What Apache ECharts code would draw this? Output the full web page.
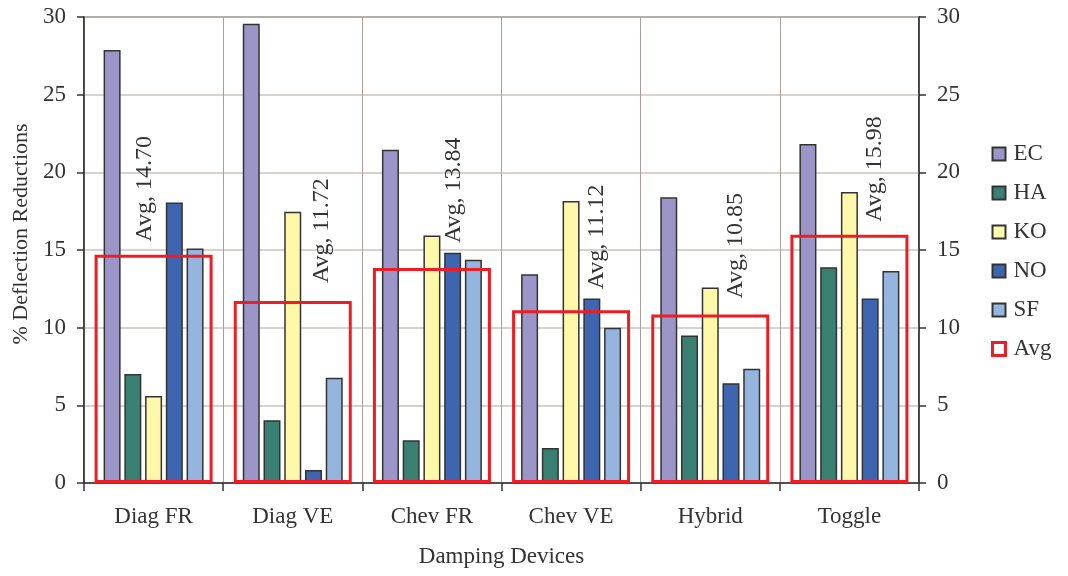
<!DOCTYPE html>
<html>
<head>
<meta charset="utf-8">
<script src="https://cdn.jsdelivr.net/npm/echarts@6/dist/echarts.min.js"></script>
<style>html,body{margin:0;padding:0;background:#fff}#c{width:1068px;height:576px}</style>
</head>
<body>
<div id="c"></div>
<script>
const categories = ['Diag FR', 'Diag VE', 'Chev FR', 'Chev VE', 'Hybrid', 'Toggle'];
const EC  = [27.88, 29.56, 21.46, 13.44, 18.40, 21.83];
const HA  = [7.02, 4.04, 2.75, 2.25, 9.49, 13.89];
const KO  = [5.60, 17.47, 15.93, 18.16, 12.58, 18.74];
const NO  = [18.05, 0.84, 14.83, 11.87, 6.42, 11.87];
const SF  = [15.10, 6.78, 14.38, 10.00, 7.36, 13.65];
const AVG = [14.70, 11.72, 13.84, 11.12, 10.85, 15.98];
const yTickLabels = ['0', '5', '10', '15', '20', '25', '30'];

// label placement tweaks for the rotated Avg labels: [screen dx, gap above bar]
const avgLabelOffsets = [[-9, 13], [29, 18], [22, 25], [26, 21], [25, 16], [25, 13]];

const FONT = 'Liberation Serif';
const TXT = '#333333';
const colors = { EC: '#9c95c8', HA: '#3a8072', KO: '#fff8aa', NO: '#3e66b0', SF: '#95b5df' };

const chart = echarts.init(document.getElementById('c'), null, { renderer: 'canvas' });

function barSeries(name, data) {
  return {
    name, type: 'bar', data, xAxisIndex: 0, yAxisIndex: 0,
    barWidth: 17, barGap: '22%',
    itemStyle: { color: colors[name], borderColor: '#333', borderWidth: 1.5 },
    z: 2
  };
}

const yAxisCommon = {
  type: 'value', min: 0, max: 30, interval: 5,
  axisLine: { show: true, lineStyle: { color: '#333', width: 1.5 } },
  axisTick: { show: true, length: 7, lineStyle: { color: '#333', width: 1.5 } },
  axisLabel: {
    fontFamily: FONT, fontSize: 23, color: TXT, margin: 18,
    formatter: v => yTickLabels[Math.round(v / 5)]
  }
};

chart.setOption({
  animation: false,
  backgroundColor: '#fff',
  textStyle: { fontFamily: FONT },
  grid: { left: 84, right: 149, top: 17, bottom: 93, show: true, borderColor: '#444', borderWidth: 1.5 },
  legend: {
    orient: 'vertical', left: 986, top: 137,
    itemWidth: 13, itemHeight: 13, itemGap: 15,
    icon: 'rect',
    data: ['EC', 'HA', 'KO', 'NO', 'SF', { name: 'Avg', itemStyle: { borderWidth: 3 } }],
    textStyle: { fontFamily: FONT, fontSize: 23, color: TXT, lineHeight: 24, padding: [0, 0, 0, 3] }
  },
  xAxis: [
    {
      type: 'category', data: categories, position: 'bottom',
      name: 'Damping Devices', nameLocation: 'middle', nameGap: 62,
      nameTextStyle: { fontFamily: FONT, fontSize: 23, color: TXT },
      axisLine: { show: true, lineStyle: { color: '#333', width: 1.5 } },
      axisTick: { show: true, length: 8, lineStyle: { color: '#333', width: 1.5 } },
      axisLabel: { fontFamily: FONT, fontSize: 23, color: TXT, margin: 22 },
      splitLine: { show: true, lineStyle: { color: '#ab9d97', width: 1 } }
    },
    { type: 'category', data: categories, show: false }
  ],
  yAxis: [
    Object.assign({}, yAxisCommon, {
      position: 'left',
      name: '% Deflection Reductions', nameLocation: 'middle', nameGap: 47,
      nameTextStyle: { fontFamily: FONT, fontSize: 22, color: TXT, padding: [0, 0, 0, 32] },
      splitLine: { show: true, lineStyle: { color: '#cbc3bf', width: 1.5 } }
    }),
    Object.assign({}, yAxisCommon, {
      position: 'right',
      splitLine: { show: false }
    })
  ],
  series: [
    barSeries('EC', EC),
    barSeries('HA', HA),
    barSeries('KO', KO),
    barSeries('NO', NO),
    barSeries('SF', SF),
    {
      name: 'Avg', type: 'bar', xAxisIndex: 1, yAxisIndex: 0,
      barWidth: 118,
      z: 5,
      itemStyle: { color: 'rgba(255,255,255,0)', borderColor: '#ee1d25', borderWidth: 3 },
      data: AVG.map((v, i) => ({
        value: v,
        // offset is applied in the label's rotated frame: [along text, across text]
        label: { offset: [avgLabelOffsets[i][1], avgLabelOffsets[i][0]] }
      })),
      label: {
        show: true, position: 'top', distance: 0, rotate: 90,
        align: 'left', verticalAlign: 'middle',
        fontFamily: FONT, fontSize: 24, color: TXT,
        formatter: p => 'Avg, ' + p.value.toFixed(2)
      }
    }
  ]
});
</script>
</body>
</html>
